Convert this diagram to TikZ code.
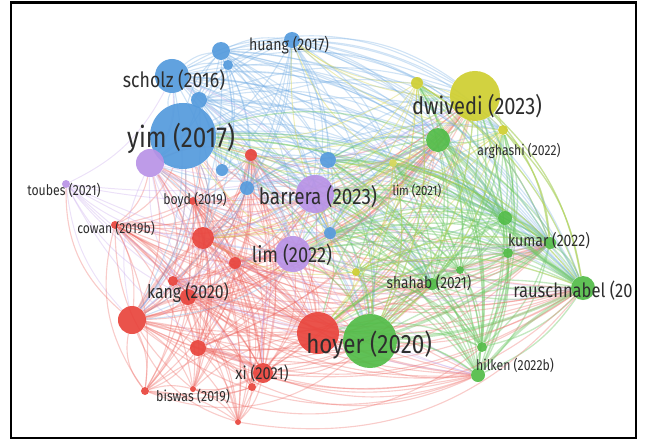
\documentclass[tikz,border=0pt]{standalone}
\usepackage{fontspec}
\newfontfamily\vosfont{Fira Sans}[FakeStretch=0.84]
\usepackage{xcolor}
\usepackage{tikz}
\usetikzlibrary{calc}

\definecolor{vosblue}{RGB}{84,154,220}
\definecolor{vosred}{RGB}{232,68,60}
\definecolor{vosgreen}{RGB}{82,188,72}
\definecolor{vosyellow}{RGB}{206,206,48}
\definecolor{vospurple}{RGB}{184,146,230}

\pgfdeclarelayer{links}
\pgfsetlayers{links,main}

\begin{document}
\begin{tikzpicture}[x=0.025cm, y=-0.025cm,
	bubble/.style={circle, inner sep=0pt, draw=none, fill opacity=.92, minimum size=#1*0.05cm},
	lbl/.style={inner sep=0pt, text=black!82, font=\vosfont\fontsize{#1}{#1}\selectfont},
	redlink/.style={draw=vosred!80, draw opacity=.34, line width=.8pt},
	bluelink/.style={draw=vosblue!80, draw opacity=.34, line width=.8pt},
	greenlink/.style={draw=vosgreen!85, draw opacity=.4, line width=.95pt},
	yellowlink/.style={draw=vosyellow!85, draw opacity=.4, line width=.7pt},
	purplelink/.style={draw=vospurple!85, draw opacity=.32, line width=.7pt}]

	\useasboundingbox (0,0) rectangle (646,441);

	% blue cluster
	\node[bubble=33, fill=vosblue] (yim17) at (183,136) {};
	\node[bubble=17, fill=vosblue] (scholz16) at (172,76) {};
	\node[bubble=8, fill=vosblue] (b1) at (199,100) {};
	\node[bubble=9, fill=vosblue] (b2) at (221,51) {};
	\node[bubble=5, fill=vosblue] (b3) at (228,65) {};
	\node[bubble=8, fill=vosblue] (huang17) at (292,40) {};
	\node[bubble=6, fill=vosblue] (b4) at (222,170) {};
	\node[bubble=7, fill=vosblue] (b5) at (247,188) {};
	\node[bubble=8, fill=vosblue] (b6) at (328,160) {};
	\node[bubble=6, fill=vosblue] (b7) at (330,233) {};
	% purple cluster
	\node[bubble=14, fill=vospurple] (p1) at (150,163) {};
	\node[bubble=4, fill=vospurple] (toubes21) at (66,184) {};
	\node[bubble=19, fill=vospurple] (barrera23) at (315,194) {};
	\node[bubble=18, fill=vospurple] (lim22) at (293,254) {};
	% red cluster
	\node[bubble=6, fill=vosred] (r1) at (251,155) {};
	\node[bubble=4, fill=vosred] (boyd19) at (193,201) {};
	\node[bubble=4, fill=vosred] (cowan19b) at (115,225) {};
	\node[bubble=11, fill=vosred] (r2) at (203,238) {};
	\node[bubble=6, fill=vosred] (r3) at (235,263) {};
	\node[bubble=5, fill=vosred] (r4) at (173,281) {};
	\node[bubble=8, fill=vosred] (kang20) at (188,297) {};
	\node[bubble=14, fill=vosred] (r5) at (132,320) {};
	\node[bubble=8, fill=vosred] (r6) at (198,348) {};
	\node[bubble=10, fill=vosred] (xi21) at (263,373) {};
	\node[bubble=4, fill=vosred] (r7) at (252,387) {};
	\node[bubble=4, fill=vosred] (r8) at (145,391) {};
	\node[bubble=3, fill=vosred] (biswas19) at (193,389) {};
	\node[bubble=3, fill=vosred] (r9) at (238,422) {};
	\node[bubble=21, fill=vosred] (r10) at (318,333) {};
	% green cluster
	\node[bubble=27, fill=vosgreen] (hoyer20) at (370,341) {};
	\node[bubble=12, fill=vosgreen] (g1) at (438,140) {};
	\node[bubble=7, fill=vosgreen] (g2) at (505,218) {};
	\node[bubble=6, fill=vosgreen] (kumar22) at (550,243) {};
	\node[bubble=5, fill=vosgreen] (g3) at (508,253) {};
	\node[bubble=12, fill=vosgreen] (rauschnabel20) at (583,288) {};
	\node[bubble=6, fill=vosgreen] (shahab21) at (432,284) {};
	\node[bubble=4, fill=vosgreen] (g4) at (460,270) {};
	\node[bubble=7, fill=vosgreen] (hilken22b) at (478,375) {};
	\node[bubble=5, fill=vosgreen] (g5) at (482,347) {};
	% yellow cluster
	\node[bubble=25, fill=vosyellow] (dwivedi23) at (475,96) {};
	\node[bubble=6, fill=vosyellow] (y1) at (417,83) {};
	\node[bubble=5, fill=vosyellow] (arghashi22) at (503,130) {};
	\node[bubble=4, fill=vosyellow!80] (lim21) at (393,163) {};
	\node[bubble=4, fill=vosyellow] (y2) at (356,272) {};

	\begin{pgfonlayer}{links}
	\begin{scope}
	\clip (11,2) rectangle (636,438);
	% within clusters
	\foreach \a [count=\i] in {r1,boyd19,cowan19b,r2,r3,r4,kang20,r5,r6,xi21,r7,r8,biswas19,r9,r10}{
		\foreach \b [count=\j] in {r1,boyd19,cowan19b,r2,r3,r4,kang20,r5,r6,xi21,r7,r8,biswas19,r9,r10}{
			\ifnum\j>\i \draw[redlink] (\a) to[bend left=16] (\b); \fi
		}
	}
	\foreach \a [count=\i] in {yim17,scholz16,b1,b2,b3,huang17,b4,b5,b6,b7}{
		\foreach \b [count=\j] in {yim17,scholz16,b1,b2,b3,huang17,b4,b5,b6,b7}{
			\ifnum\j>\i \draw[bluelink] (\a) to[bend left=16] (\b); \fi
		}
	}
	\foreach \a [count=\i] in {hoyer20,g1,g2,kumar22,g3,rauschnabel20,shahab21,g4,hilken22b,g5}{
		\foreach \b [count=\j] in {hoyer20,g1,g2,kumar22,g3,rauschnabel20,shahab21,g4,hilken22b,g5}{
			\ifnum\j>\i \draw[greenlink] (\a) to[bend left=16] (\b); \fi
		}
	}
	\foreach \a [count=\i] in {dwivedi23,y1,arghashi22,lim21,y2}{
		\foreach \b [count=\j] in {dwivedi23,y1,arghashi22,lim21,y2}{
			\ifnum\j>\i \draw[yellowlink] (\a) to[bend left=16] (\b); \fi
		}
	}
	% between clusters
	\foreach \a in {r1,r2,r3,r4,kang20,r5,r6,xi21,r10,cowan19b,boyd19}
		\foreach \b in {yim17,p1,barrera23,lim22,hoyer20,shahab21,hilken22b,rauschnabel20,b5,g1,dwivedi23,kumar22}
			\draw[redlink] (\a) to[bend right=20] (\b);
	\foreach \a in {yim17,scholz16,b1,b2,huang17,b5,b6,b7}
		\foreach \b in {p1,barrera23,lim22,dwivedi23,g1,kumar22,rauschnabel20,hoyer20,r2,r5,lim21,g2,shahab21,arghashi22}
			\draw[bluelink] (\a) to[bend left=20] (\b);
	\foreach \a in {hoyer20,g1,g2,kumar22,g3,rauschnabel20,shahab21,g4,hilken22b,g5}
		\foreach \b in {dwivedi23,y1,arghashi22,barrera23,lim22,r10,yim17,y2,b6,lim21,b7}
			\draw[greenlink] (\a) to[bend right=18] (\b);
	\foreach \a in {dwivedi23,y1,arghashi22,lim21,y2}
		\foreach \b in {barrera23,lim22,yim17,hoyer20,r2,huang17,rauschnabel20,kumar22,r10}
			\draw[yellowlink] (\a) to[bend left=18] (\b);
	\foreach \a in {p1,toubes21,barrera23,lim22}
		\foreach \b in {r2,r5,kang20,hoyer20,r10,rauschnabel20,dwivedi23,g1,xi21,scholz16,kumar22,hilken22b}
			\draw[purplelink] (\a) to[bend right=18] (\b);
	% long outer arcs
	\foreach \a/\b in {r5/hilken22b, r8/hoyer20, biswas19/g5, r9/rauschnabel20, xi21/rauschnabel20, r6/hilken22b, r5/rauschnabel20}
		\draw[redlink] (\a) to[bend right=30] (\b);
	\foreach \a/\b in {b2/rauschnabel20, huang17/kumar22, scholz16/dwivedi23, b3/g2, huang17/rauschnabel20, scholz16/kumar22}
		\draw[bluelink] (\a) to[bend left=30] (\b);
	\foreach \a/\b in {cowan19b/r8, toubes21/r5, cowan19b/biswas19, r5/r9, r5/r8}
		\draw[redlink] (\a) to[bend right=25] (\b);
	% strong links
	\foreach \a/\b in {r5/kang20, r5/r2, r2/r10, kang20/r10, r6/xi21}
		\draw[redlink, line width=2pt] (\a) to[bend left=10] (\b);
	\foreach \a/\b in {rauschnabel20/hoyer20, rauschnabel20/g1, rauschnabel20/g2, kumar22/hoyer20, g1/g2, hilken22b/rauschnabel20, shahab21/g2}
		\draw[greenlink, line width=2pt] (\a) to[bend left=10] (\b);
	\end{scope}
	\end{pgfonlayer}

	% labels
	\begin{scope}
	\clip (11,2) rectangle (636,438);
	\node[lbl=12] (huangtext) at (289,45) {huang (2017)};
	\node[lbl=15] (scholztext) at (174,80) {scholz (2016)};
	\node[lbl=20.5] (yimtext) at (181,138) {yim (2017)};
	\node[lbl=17] (dwivedtext) at (477,106) {dwivedi (2023)};
	\node[lbl=10.3] (arghashitext) at (519,151) {arghashi (2022)};
	\node[lbl=10.4] (toubestext) at (64,190) {toubes (2021)};
	\node[lbl=10.4] (boydtext) at (195,200) {boyd (2019)};
	\node[lbl=16] (barreratext) at (318,197) {barrera (2023)};
	\node[lbl=9.6] (limatext) at (417,191) {lim (2021)};
	\node[lbl=10.3] (cowantext) at (116,228) {cowan (2019b)};
	\node[lbl=15.5] (limbtext) at (292,255) {lim (2022)};
	\node[lbl=11.9] (kumartext) at (549,241) {kumar (2022)};
	\node[lbl=13.4] (kangtext) at (188,293) {kang (2020)};
	\node[lbl=11.6] (shahabtext) at (429,283) {shahab (2021)};
	\node[lbl=14, anchor=west] (rauschtext) at (513,291) {rauschnabel (20};
	\node[lbl=19] (hoyertext) at (369,345) {hoyer (2020)};
	\node[lbl=10.4] (hilkentext) at (515,365) {hilken (2022b)};
	\node[lbl=12.4] (xitext) at (262,373) {xi (2021)};
	\node[lbl=10.5] (biswastext) at (193,396) {biswas (2019)};
	\end{scope}

	\draw[line width=1.5pt] (11,2.5) rectangle (636,438);

\end{tikzpicture}
\end{document}
